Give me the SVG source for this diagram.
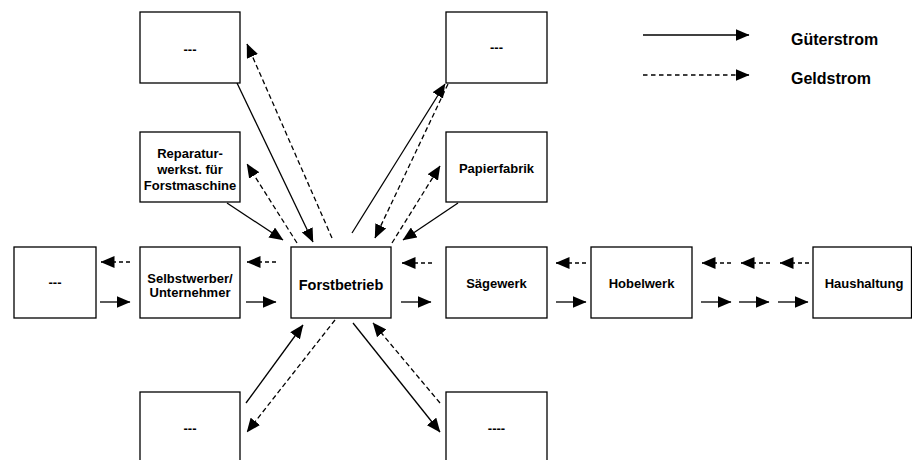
<svg xmlns="http://www.w3.org/2000/svg" width="912" height="460" viewBox="0 0 912 460">
<style>
.box{fill:#fff;stroke:#000;stroke-width:1.3}
.t{font-family:"Liberation Sans",Arial,sans-serif;font-weight:bold;font-size:13px;fill:#000;text-anchor:middle}
.big{font-size:14.5px}
.leg{font-family:"Liberation Sans",Arial,sans-serif;font-weight:bold;font-size:16px;fill:#000}
.s{stroke:#000;stroke-width:1.3;fill:none;marker-end:url(#ah)}
.d{stroke:#000;stroke-width:1.3;fill:none;stroke-dasharray:5,3;marker-end:url(#ah)}
.dh{stroke:#000;stroke-width:1.3;fill:none;stroke-dasharray:4,3;marker-end:url(#ah)}
</style>
<defs>
<marker id="ah" markerUnits="userSpaceOnUse" markerWidth="14" markerHeight="12" refX="13.5" refY="6" orient="auto" viewBox="0 0 14 12">
<path d="M0,0 L14,6 L0,12 z" fill="#000"/>
</marker>
</defs>
<rect width="912" height="460" fill="#fff"/>
<g id="connectors">
<line class="s" x1="237" y1="83" x2="313" y2="242"/>
<line class="d" x1="332" y1="238" x2="247" y2="44"/>
<line class="s" x1="227" y1="203" x2="283" y2="240"/>
<line class="d" x1="297" y1="243" x2="247" y2="164"/>
<line class="s" x1="352" y1="233" x2="445" y2="84"/>
<line class="d" x1="448" y1="84" x2="375" y2="238"/>
<line class="d" x1="392" y1="243" x2="440" y2="166"/>
<line class="s" x1="458" y1="203" x2="403" y2="240"/>
<line class="s" x1="246" y1="403" x2="303" y2="325"/>
<line class="d" x1="335" y1="320" x2="247" y2="432"/>
<line class="s" x1="353" y1="323" x2="440" y2="432"/>
<line class="d" x1="440" y1="403" x2="373" y2="323"/>
<line class="dh" x1="130" y1="262" x2="101" y2="262"/>
<line class="s" x1="100" y1="302" x2="130" y2="302"/>
<line class="dh" x1="276" y1="262" x2="247" y2="262"/>
<line class="s" x1="246" y1="302" x2="276" y2="302"/>
<line class="dh" x1="432" y1="263" x2="402" y2="263"/>
<line class="s" x1="401" y1="302" x2="431" y2="302"/>
<line class="dh" x1="586" y1="263" x2="556" y2="263"/>
<line class="s" x1="556" y1="302" x2="586" y2="302"/>
<line class="dh" x1="731" y1="263" x2="702" y2="263"/>
<line class="dh" x1="770" y1="263" x2="741" y2="263"/>
<line class="dh" x1="809" y1="263" x2="780" y2="263"/>
<line class="s" x1="701" y1="302" x2="731" y2="302"/>
<line class="s" x1="739" y1="302" x2="769" y2="302"/>
<line class="s" x1="778" y1="302" x2="808" y2="302"/>
</g>
<g id="legend">
<line class="s" x1="643" y1="35" x2="749" y2="35"/>
<line class="d" style="stroke-dasharray:4.5,3.5" x1="643" y1="75" x2="749" y2="75"/>
<text class="leg" x="791" y="45">Güterstrom</text>
<text class="leg" x="791" y="84">Geldstrom</text>
</g>
<g id="n_topleft"><rect class="box" x="140" y="12" width="100" height="71"/><text class="t" x="190" y="53.5">---</text></g>
<g id="n_topright"><rect class="box" x="446" y="12" width="101" height="71"/><text class="t" x="496.5" y="52">---</text></g>
<g id="n_reparatur"><rect class="box" x="140" y="132" width="100" height="70"/>
<text class="t" x="190" y="157.5">Reparatur-</text><text class="t" x="190" y="173.5">werkst. für</text><text class="t" x="190" y="189.5">Forstmaschine</text></g>
<g id="n_papier"><rect class="box" x="446" y="132" width="101" height="70"/><text class="t" x="496.5" y="173">Papierfabrik</text></g>
<g id="n_left"><rect class="box" x="14" y="247" width="82" height="71"/><text class="t" x="55" y="286.5">---</text></g>
<g id="n_selbst"><rect class="box" x="140" y="247" width="100" height="71"/>
<text class="t" x="190" y="282.5">Selbstwerber/</text><text class="t" x="190" y="296.5">Unternehmer</text></g>
<g id="n_forst"><rect class="box" x="291" y="247" width="100" height="71"/><text class="t big" x="341" y="289.5">Forstbetrieb</text></g>
<g id="n_saege"><rect class="box" x="446" y="247" width="101" height="71"/><text class="t" x="496.5" y="287.5">Sägewerk</text></g>
<g id="n_hobel"><rect class="box" x="591" y="247" width="101" height="71"/><text class="t" x="641.5" y="287.5">Hobelwerk</text></g>
<g id="n_haus"><rect class="box" x="813" y="247" width="98.5" height="71"/><text class="t" x="864" y="287.5">Haushaltung</text></g>
<g id="n_botleft"><rect class="box" x="140" y="392" width="100" height="72"/><text class="t" x="190" y="432.5">---</text></g>
<g id="n_botright"><rect class="box" x="446" y="392" width="101" height="72"/><text class="t" x="496.5" y="432.5">----</text></g>
</svg>
